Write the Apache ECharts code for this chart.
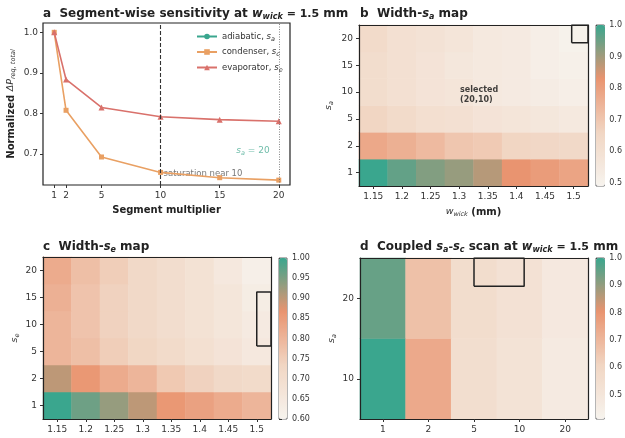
<!DOCTYPE html>
<html>
<head>
<meta charset="utf-8">
<script src="https://cdn.jsdelivr.net/npm/echarts@6/dist/echarts.min.js"></script>
<style>
  html, body { margin: 0; padding: 0; background: #fff; }
  #chart { width: 625px; height: 438px; }
</style>
</head>
<body>
<div id="chart"></div>
<script>
// ---- panel a: segment sweep ----
const multipliers = [1, 2, 5, 10, 15, 20];
const adiabaticVals = [];
const condenserVals = [1.0, 0.808, 0.693, 0.655, 0.642, 0.636];
const evaporatorVals = [1.0, 0.884, 0.815, 0.792, 0.785, 0.781];
const yTicksA = [0.7, 0.8, 0.9, 1.0];

// ---- panels b, c: width maps (rows from s = 1 up to s = 20) ----
const wickWidths = ['1.15', '1.2', '1.25', '1.3', '1.35', '1.4', '1.45', '1.5'];
const segLevels = ['1', '2', '5', '10', '15', '20'];
const widthSaMap = [
  [1.00, 0.96, 0.93, 0.91, 0.88, 0.83, 0.81, 0.79],
  [0.78, 0.76, 0.73, 0.70, 0.69, 0.66, 0.65, 0.64],
  [0.66, 0.63, 0.61, 0.60, 0.58, 0.57, 0.56, 0.55],
  [0.62, 0.60, 0.58, 0.57, 0.55, 0.54, 0.53, 0.52],
  [0.62, 0.60, 0.58, 0.56, 0.55, 0.54, 0.52, 0.51],
  [0.63, 0.60, 0.59, 0.57, 0.55, 0.54, 0.52, 0.50]
];
const widthSeMap = [
  [1.00, 0.96, 0.93, 0.90, 0.86, 0.84, 0.82, 0.80],
  [0.90, 0.86, 0.82, 0.80, 0.76, 0.74, 0.72, 0.71],
  [0.80, 0.78, 0.75, 0.73, 0.71, 0.69, 0.67, 0.65],
  [0.80, 0.77, 0.74, 0.72, 0.70, 0.68, 0.66, 0.64],
  [0.81, 0.77, 0.74, 0.72, 0.70, 0.68, 0.66, 0.63],
  [0.82, 0.78, 0.75, 0.72, 0.70, 0.68, 0.65, 0.62]
];

// ---- panel d: coupled scan (rows s_a = 10, 20) ----
const coupledSc = ['1', '2', '5', '10', '20'];
const coupledSa = ['10', '20'];
const coupledMap = [
  [1.00, 0.74, 0.55, 0.52, 0.47],
  [0.95, 0.67, 0.56, 0.53, 0.48]
];

// colorbar ticks / ranges
const cbTicksB = [0.5, 0.6, 0.7, 0.8, 0.9, 1.0];
const cbTicksC = [0.6, 0.65, 0.7, 0.75, 0.8, 0.85, 0.9, 0.95, 1.0];
const cbTicksD = [0.5, 0.6, 0.7, 0.8, 0.9, 1.0];

const FONT = 'DejaVu Sans';
const INK = '#222';
const TEAL = '#3aa68e';
const ORANGE = '#e9a063';
const RED = '#d9716b';

// custom colormap: cream -> light peach -> orange -> teal
const cmapStops = [[0, [247, 243, 238]], [0.333, [241, 214, 195]], [0.667, [233, 148, 112]], [1, [58, 166, 142]]];
function cmapColors(n) {
  const out = [];
  for (let k = 0; k < n; k++) {
    const t = k / (n - 1);
    let j = 0;
    while (j < cmapStops.length - 2 && t > cmapStops[j + 1][0]) j++;
    const [t0, c0] = cmapStops[j], [t1, c1] = cmapStops[j + 1];
    const f = (t - t0) / (t1 - t0);
    const c = c0.map((v, i) => Math.round(v + (c1[i] - v) * f));
    out.push('rgb(' + c.join(',') + ')');
  }
  return out;
}
const cmap = cmapColors(37);

const rich = {
  b: { fontFamily: FONT, fontSize: 12, fontWeight: 'bold', color: INK },
  n: { fontFamily: FONT, fontSize: 11, color: INK },
  i: { fontFamily: FONT, fontSize: 11.5, fontStyle: 'italic', color: INK },
  s: { fontFamily: FONT, fontSize: 8, fontStyle: 'italic', color: INK, padding: [6, 0, 0, 0] }
};
const richSmall = {
  t: { fontFamily: FONT, fontSize: 8.5, color: '#333' },
  tb: { fontFamily: FONT, fontSize: 10, fontWeight: 'bold', color: INK },
  i: { fontFamily: FONT, fontSize: 9.5, fontStyle: 'italic', color: '#333' },
  li: { fontFamily: FONT, fontSize: 8.5, fontStyle: 'italic', color: '#333' },
  s: { fontFamily: FONT, fontSize: 6.5, fontStyle: 'italic', color: '#333', padding: [5, 0, 0, 0] }
};

function toCells(rows) {
  const cells = [];
  rows.forEach((row, yi) => row.forEach((v, xi) => cells.push([xi, yi, v])));
  return cells;
}

const tickLabel = { fontFamily: FONT, fontSize: 9, color: '#333' };

function catAxis(gridIndex, data, extra) {
  return Object.assign({
    type: 'category', gridIndex, data, z: 10,
    axisLine: { show: true, onZero: false, lineStyle: { color: INK, width: 1.2 } },
    axisTick: { show: true, alignWithLabel: true, length: 3, lineStyle: { color: '#333' } },
    axisLabel: Object.assign({ interval: 0, margin: 6 }, tickLabel),
    splitLine: { show: false }
  }, extra || {});
}
function overlayAxis(gridIndex, max, position) {
  return {
    type: 'value', gridIndex, min: -0.5, max, position, z: 10,
    axisLine: { show: true, onZero: false, lineStyle: { color: INK, width: 1.2 } },
    axisTick: { show: false }, axisLabel: { show: false }, splitLine: { show: false }
  };
}
function cbXAxis(gridIndex) {
  return { type: 'value', gridIndex, show: false, min: 0, max: 1 };
}
function cbYAxis(gridIndex, min, max, ticks, digits) {
  return {
    type: 'value', gridIndex, min, max, position: 'right',
    axisLine: { show: false },
    axisTick: { show: true, customValues: ticks, length: 3, lineStyle: { color: '#333' } },
    axisLabel: { customValues: ticks, margin: 5, fontFamily: FONT, fontSize: 8, color: '#333',
      formatter: v => v.toFixed(digits) },
    splitLine: { show: false }
  };
}
function boxSeries(xi, yi, pts) {
  return {
    type: 'line', xAxisIndex: xi, yAxisIndex: yi, data: pts, symbol: 'none', silent: true,
    lineStyle: { color: INK, width: 1.5 }, z: 5, animation: false
  };
}

const chart = echarts.init(document.getElementById('chart'), null, { renderer: 'canvas' });

const grids = [
  { left: 43, top: 23, width: 247, height: 162, show: true, borderColor: INK, borderWidth: 1.2 },
  { left: 359, top: 25, width: 229, height: 161 },
  { left: 43, top: 257, width: 228, height: 162 },
  { left: 360, top: 258, width: 228, height: 161 },
  { left: 596, top: 25, width: 9, height: 161, show: true, borderColor: '#444', borderWidth: 0.8 },
  { left: 279, top: 258, width: 8, height: 161, show: true, borderColor: '#444', borderWidth: 0.8 },
  { left: 596, top: 258, width: 9, height: 161, show: true, borderColor: '#444', borderWidth: 0.8 }
];

const xAxes = [
  {
    type: 'value', gridIndex: 0, min: 0.05, max: 20.95,
    axisLine: { show: false },
    axisTick: { show: true, customValues: multipliers, length: 3, lineStyle: { color: '#333' } },
    axisLabel: Object.assign({ customValues: multipliers, margin: 6 }, tickLabel),
    splitLine: { show: false },
    name: 'Segment multiplier', nameLocation: 'middle', nameGap: 20,
    nameTextStyle: { fontFamily: FONT, fontSize: 10, fontWeight: 'bold', color: INK }
  },
  catAxis(1, wickWidths, {
    name: '{i|w}{s|wick}{tb| (mm)}', nameLocation: 'middle', nameGap: 20,
    nameTextStyle: { rich: richSmall }
  }),
  overlayAxis(1, 7.5, 'top'),
  catAxis(2, wickWidths),
  overlayAxis(2, 7.5, 'top'),
  catAxis(3, coupledSc),
  overlayAxis(3, 4.5, 'top'),
  cbXAxis(4), cbXAxis(5), cbXAxis(6)
];

const yAxes = [
  {
    type: 'value', gridIndex: 0, min: 0.624, max: 1.023,
    axisLine: { show: false },
    axisTick: { show: true, customValues: yTicksA, length: 3, lineStyle: { color: '#333' } },
    axisLabel: Object.assign({ customValues: yTicksA, margin: 5, formatter: v => v.toFixed(1) }, tickLabel),
    splitLine: { show: false },
    name: '{tb|Normalized }{i|ΔP}{s|req, total}', nameLocation: 'middle', nameGap: 26, nameRotate: 90,
    nameTextStyle: { rich: richSmall }
  },
  catAxis(1, segLevels, {
    name: '{i|s}{s|a}', nameLocation: 'middle', nameGap: 24, nameRotate: 90, nameTextStyle: { rich: richSmall }
  }),
  overlayAxis(1, 5.5, 'right'),
  catAxis(2, segLevels, {
    name: '{i|s}{s|e}', nameLocation: 'middle', nameGap: 22, nameRotate: 90, nameTextStyle: { rich: richSmall }
  }),
  overlayAxis(2, 5.5, 'right'),
  catAxis(3, coupledSa, {
    name: '{i|s}{s|a}', nameLocation: 'middle', nameGap: 22, nameRotate: 90, nameTextStyle: { rich: richSmall }
  }),
  overlayAxis(3, 1.5, 'right'),
  cbYAxis(4, 0.49, 1.0, cbTicksB, 1),
  cbYAxis(5, 0.6, 1.0, cbTicksC, 2),
  cbYAxis(6, 0.41, 1.0, cbTicksD, 1)
];

const lineSeries = (name, vals, color, symbol, size) => ({
  name, type: 'line', xAxisIndex: 0, yAxisIndex: 0,
  data: vals.map((v, k) => [multipliers[k], v]),
  symbol, symbolSize: size,
  lineStyle: { color, width: 1.6 }, itemStyle: { color }, z: 3
});

const series = [
  lineSeries('adiabatic', adiabaticVals, TEAL, 'circle', 5),
  Object.assign(lineSeries('condenser', condenserVals, ORANGE, 'rect', 5), {
    markLine: {
      silent: true, symbol: ['none', 'none'], label: { show: false }, animation: false,
      data: [
        { xAxis: 10, lineStyle: { type: [4, 2], color: '#333', width: 1.1 } },
        { xAxis: 20, lineStyle: { type: [1, 1.5], color: '#666', width: 0.8 } }
      ]
    }
  }),
  lineSeries('evaporator', evaporatorVals, RED, 'triangle', 6),
  {
    type: 'scatter', xAxisIndex: 0, yAxisIndex: 0, symbolSize: 0, silent: true,
    data: [
      { value: [10.25, 0.652], label: { formatter: 'saturation near 10', color: '#555', fontSize: 8.5, fontFamily: FONT } },
      { value: [16.4, 0.708], label: { formatter: '{i|s}{s|a}{t| = 20}',
        rich: {
          i: { fontFamily: FONT, fontSize: 9, fontStyle: 'italic', color: '#4aab94' },
          s: { fontFamily: FONT, fontSize: 6.5, fontStyle: 'italic', color: '#4aab94', padding: [5, 0, 0, 0] },
          t: { fontFamily: FONT, fontSize: 9, color: '#4aab94' }
        } } }
    ],
    label: { show: true, position: 'right', distance: 0 }
  },
  // b
  {
    type: 'heatmap', xAxisIndex: 1, yAxisIndex: 1, data: toCells(widthSaMap),
    itemStyle: { borderWidth: 0 }, emphasis: { disabled: true }
  },
  boxSeries(2, 2, [[6.93, 4.84], [7.5, 4.84], [7.5, 5.5], [6.93, 5.5], [6.93, 4.84]]),
  {
    type: 'scatter', xAxisIndex: 2, yAxisIndex: 2, symbolSize: 0, silent: true, z: 6,
    data: [[3.8, 2.9]],
    label: { show: true, position: 'inside', formatter: 'selected\n(20,10)', align: 'left',
      fontFamily: FONT, fontSize: 8, fontWeight: 'bold', color: '#111', lineHeight: 10, offset: [-22, 0] }
  },
  // c
  {
    type: 'heatmap', xAxisIndex: 3, yAxisIndex: 3, data: toCells(widthSeMap),
    itemStyle: { borderWidth: 0 }, emphasis: { disabled: true }
  },
  boxSeries(4, 4, [[7.0, 2.2], [7.5, 2.2], [7.5, 4.2], [7.0, 4.2], [7.0, 2.2]]),
  // d
  {
    type: 'heatmap', xAxisIndex: 5, yAxisIndex: 5, data: toCells(coupledMap),
    itemStyle: { borderWidth: 0 }, emphasis: { disabled: true }
  },
  boxSeries(6, 6, [[2.0, 1.15], [3.1, 1.15], [3.1, 1.5], [2.0, 1.5], [2.0, 1.15]])
];

const vm = (seriesIndex, min, max, left, top, w, h) => ({
  type: 'continuous', seriesIndex, dimension: 2, min, max, calculable: false,
  left, top, itemWidth: w, itemHeight: h, padding: 0, orient: 'vertical',
  inRange: { color: cmap }, hoverLink: false
});

const titleText = (txt, left, top) => ({
  text: txt, left, top, padding: 0, textStyle: { rich }
});

chart.setOption({
  animation: false,
  backgroundColor: '#fff',
  title: [
    titleText('{b|a  Segment-wise sensitivity at }{i|w}{s|wick}{n| = 1.5}{b| mm}', 43, 7),
    titleText('{b|b  Width-}{i|s}{s|a}{b| map}', 360, 7),
    titleText('{b|c  Width-}{i|s}{s|e}{b| map}', 43, 240),
    titleText('{b|d  Coupled }{i|s}{s|a}{n|-}{i|s}{s|c}{b| scan at }{i|w}{s|wick}{n| = 1.5}{b| mm}', 360, 240)
  ],
  legend: {
    data: ['adiabatic', 'condenser', 'evaporator'],
    orient: 'vertical', left: 196, top: 32, itemWidth: 20, itemHeight: 7, itemGap: 5,
    padding: 0,
    formatter: name => ({ adiabatic: '{t|adiabatic, }{li|s}{s|a}', condenser: '{t|condenser, }{li|s}{s|c}',
      evaporator: '{t|evaporator, }{li|s}{s|e}' })[name],
    textStyle: { rich: richSmall }
  },
  grid: grids,
  xAxis: xAxes,
  yAxis: yAxes,
  visualMap: [
    vm(4, 0.49, 1.0, 596, 25, 9, 161),
    vm(7, 0.6, 1.0, 279, 258, 8, 161),
    vm(9, 0.41, 1.0, 596, 258, 9, 161)
  ],
  series
});
</script>
</body>
</html>
